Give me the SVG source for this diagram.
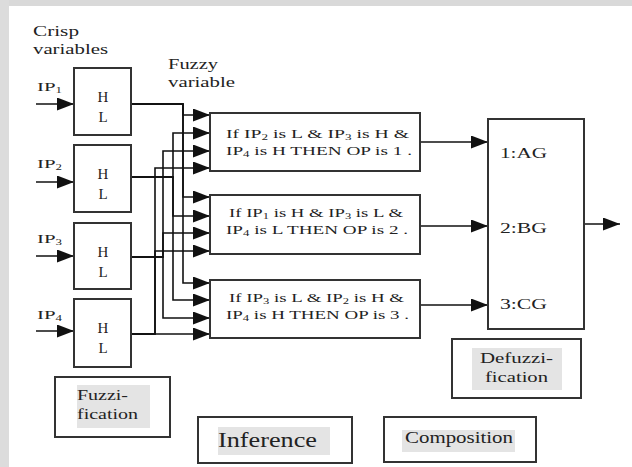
<svg xmlns="http://www.w3.org/2000/svg" width="632" height="467" viewBox="0 0 632 467" font-family="'Liberation Serif', 'DejaVu Serif', serif">
<style>
text{font-family:'Liberation Serif','DejaVu Serif',serif;fill:#222}
.box{fill:#fff;stroke:#333;stroke-width:2}
.lbl{fill:#fff;stroke:#333;stroke-width:2}
.hl{fill:#e4e4e4}
.wire{fill:none;stroke:#111;stroke-width:1.6}
.arr{fill:none;stroke:#111;stroke-width:1.6;marker-end:url(#ah)}
.rule{font-size:12px}
.hlt{font-size:15px}
</style>
<defs>
<marker id="ah" markerUnits="userSpaceOnUse" markerWidth="18" markerHeight="14" refX="17" refY="6.5" orient="auto">
<path d="M0,0 L17,6.5 L0,13 z" fill="#111"/>
</marker>
</defs>
<rect width="632" height="467" fill="#fff"/>
<rect x="0" y="0" width="632" height="6" fill="#d9d9d9"/>
<rect x="0" y="0" width="9" height="467" fill="#dcdcdc"/>

<g id="titles">
<text x="33" y="36" font-size="14" textLength="46" lengthAdjust="spacingAndGlyphs">Crisp</text>
<text x="33" y="54" font-size="14" textLength="75" lengthAdjust="spacingAndGlyphs">variables</text>
<text x="168" y="69" font-size="14" textLength="50" lengthAdjust="spacingAndGlyphs">Fuzzy</text>
<text x="168" y="87" font-size="14" textLength="67" lengthAdjust="spacingAndGlyphs">variable</text>
</g>

<g id="connectors">
<path class="arr" d="M36,104 H74"/>
<path class="arr" d="M36,182 H74"/>
<path class="arr" d="M36,256 H74"/>
<path class="arr" d="M36,331 H74"/>
<path class="arr" d="M131,104 H183 V115 H210"/>
<path class="arr" d="M131,104 H183 V197 H210"/>
<path class="arr" d="M131,104 H183 V283 H210"/>
<path class="arr" d="M131,177 H173 V133 H210"/>
<path class="arr" d="M131,177 H173 V216 H210"/>
<path class="arr" d="M131,177 H173 V300 H210"/>
<path class="arr" d="M131,257 H163 V151 H210"/>
<path class="arr" d="M131,257 H163 V233 H210"/>
<path class="arr" d="M131,257 H163 V318 H210"/>
<path class="arr" d="M131,334 H155 V168 H210"/>
<path class="arr" d="M131,334 H155 V251 H210"/>
<path class="arr" d="M131,334 H210"/>
<path class="arr" d="M420,142 H488"/>
<path class="arr" d="M420,226 H488"/>
<path class="arr" d="M420,305 H488"/>
<path class="arr" d="M584,224 H620"/>
</g>

<g id="inputs">
<text x="37" y="91" font-size="13" textLength="25" lengthAdjust="spacingAndGlyphs">IP<tspan font-size="8" dy="2">1</tspan></text>
<text x="37" y="168" font-size="13" textLength="25" lengthAdjust="spacingAndGlyphs">IP<tspan font-size="8" dy="2">2</tspan></text>
<text x="37" y="243" font-size="13" textLength="25" lengthAdjust="spacingAndGlyphs">IP<tspan font-size="8" dy="2">3</tspan></text>
<text x="37" y="319" font-size="13" textLength="25" lengthAdjust="spacingAndGlyphs">IP<tspan font-size="8" dy="2">4</tspan></text>
</g>

<g id="fuzz1">
<rect class="box" x="74" y="68" width="57" height="67"/>
<text class="hlt" x="103" y="102" text-anchor="middle">H</text>
<text class="hlt" x="103" y="122" text-anchor="middle">L</text>
</g>
<g id="fuzz2">
<rect class="box" x="74" y="145" width="57" height="67"/>
<text class="hlt" x="103" y="179" text-anchor="middle">H</text>
<text class="hlt" x="103" y="199" text-anchor="middle">L</text>
</g>
<g id="fuzz3">
<rect class="box" x="74" y="223" width="57" height="66"/>
<text class="hlt" x="103" y="257" text-anchor="middle">H</text>
<text class="hlt" x="103" y="277" text-anchor="middle">L</text>
</g>
<g id="fuzz4">
<rect class="box" x="74" y="299" width="57" height="68"/>
<text class="hlt" x="103" y="333" text-anchor="middle">H</text>
<text class="hlt" x="103" y="353" text-anchor="middle">L</text>
</g>

<g id="ruleA">
<rect class="box" x="210" y="113" width="210" height="58"/>
<text class="rule" x="226" y="138" textLength="183" lengthAdjust="spacingAndGlyphs">If IP<tspan font-size="8" dy="2">2</tspan><tspan dy="-2"> is  L  &amp; IP</tspan><tspan font-size="8" dy="2">3</tspan><tspan dy="-2"> is  H &amp;</tspan></text>
<text class="rule" x="226" y="155" textLength="186" lengthAdjust="spacingAndGlyphs">IP<tspan font-size="8" dy="2">4</tspan><tspan dy="-2"> is  H THEN OP  is 1 .</tspan></text>
</g>
<g id="ruleB">
<rect class="box" x="210" y="195" width="210" height="59"/>
<text class="rule" x="229" y="217" textLength="174" lengthAdjust="spacingAndGlyphs">If IP<tspan font-size="8" dy="2">1</tspan><tspan dy="-2"> is H &amp; IP</tspan><tspan font-size="8" dy="2">3</tspan><tspan dy="-2"> is  L &amp;</tspan></text>
<text class="rule" x="226" y="234" textLength="182" lengthAdjust="spacingAndGlyphs">IP<tspan font-size="8" dy="2">4</tspan><tspan dy="-2"> is  L THEN OP is 2 .</tspan></text>
</g>
<g id="ruleC">
<rect class="box" x="210" y="280" width="210" height="58"/>
<text class="rule" x="229" y="302" textLength="175" lengthAdjust="spacingAndGlyphs">If IP<tspan font-size="8" dy="2">3</tspan><tspan dy="-2"> is  L &amp; IP</tspan><tspan font-size="8" dy="2">2</tspan><tspan dy="-2"> is H &amp;</tspan></text>
<text class="rule" x="226" y="319" textLength="183" lengthAdjust="spacingAndGlyphs">IP<tspan font-size="8" dy="2">4</tspan><tspan dy="-2"> is  H THEN OP is 3 .</tspan></text>
</g>

<g id="defuzz">
<rect class="box" x="488" y="119" width="96" height="210"/>
<text x="500" y="158" font-size="14" textLength="47" lengthAdjust="spacingAndGlyphs">1:AG</text>
<text x="500" y="233" font-size="14" textLength="47" lengthAdjust="spacingAndGlyphs">2:BG</text>
<text x="500" y="309" font-size="14" textLength="47" lengthAdjust="spacingAndGlyphs">3:CG</text>
</g>

<g id="fuzzification">
<rect class="lbl" x="55" y="377" width="115" height="60"/>
<rect class="hl" x="77" y="385" width="73" height="43"/>
<text x="77" y="400" font-size="14" textLength="51" lengthAdjust="spacingAndGlyphs">Fuzzi-</text>
<text x="77" y="419" font-size="14" textLength="61" lengthAdjust="spacingAndGlyphs">fication</text>
</g>

<g id="inference">
<rect class="lbl" x="198" y="417" width="154" height="46"/>
<rect class="hl" x="218" y="427" width="112" height="28"/>
<text x="218" y="447" font-size="21" textLength="99" lengthAdjust="spacingAndGlyphs">Inference</text>
</g>

<g id="composition">
<rect class="lbl" x="384" y="417" width="152" height="45"/>
<rect class="hl" x="402" y="430" width="113" height="22"/>
<text x="405" y="443" font-size="16" textLength="108" lengthAdjust="spacingAndGlyphs">Composition</text>
</g>

<g id="defuzzification">
<rect class="lbl" x="452" y="339" width="129" height="59"/>
<rect class="hl" x="472" y="348" width="90" height="42"/>
<text x="480" y="363" font-size="14" textLength="73" lengthAdjust="spacingAndGlyphs">Defuzzi-</text>
<text x="485" y="382" font-size="14" textLength="63" lengthAdjust="spacingAndGlyphs">fication</text>
</g>
</svg>
